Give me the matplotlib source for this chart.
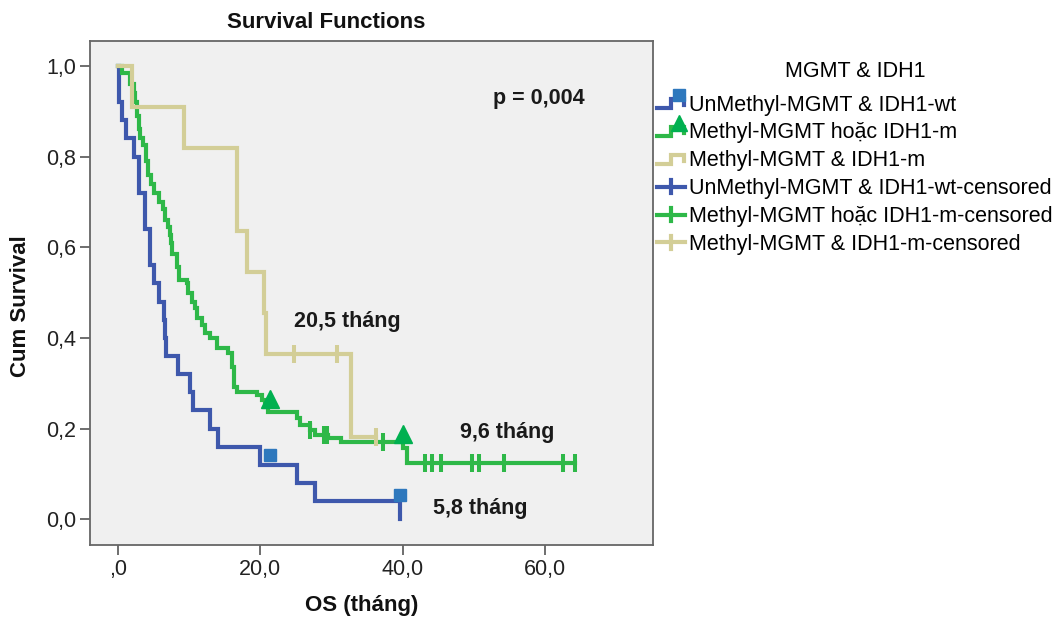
import matplotlib
matplotlib.use('Agg')
import matplotlib.pyplot as plt
from matplotlib.legend_handler import HandlerBase
from matplotlib.lines import Line2D
import numpy as np

plt.rcParams['font.family'] = ['Liberation Sans', 'DejaVu Sans']

# ---------------- data ----------------
# UnMethyl-MGMT & IDH1-wt
blue_t = [0, 0.2, 0.5, 1.1, 2.3, 2.9, 3.8, 4.5, 5.0, 5.7, 6.5, 6.6, 6.8, 8.5, 10.1, 10.5, 12.9, 14.1, 19.9, 25.1, 27.7, 39.6]
blue_s = [1.0, 0.92, 0.88, 0.84, 0.80, 0.72, 0.64, 0.56, 0.52, 0.48, 0.44, 0.40, 0.36, 0.32, 0.28, 0.24, 0.20, 0.16, 0.12, 0.08, 0.04, 0.0]
blue_end = 39.6
blue_cens = []
blue_mark_x = [21.3, 39.7]
blue_mark_y = [0.141, 0.053]

# Methyl-MGMT hoac IDH1-m
green_t = [0, 0.5, 1.7, 2.2, 2.4, 2.6, 2.9, 3.1, 3.5, 3.9, 4.2, 4.6, 5.1, 5.7, 6.3, 6.6, 7.0, 7.3, 7.5, 7.6, 8.3, 8.6, 9.7, 9.9, 10.4, 10.8, 11.1, 11.8, 12.2, 12.9, 13.9, 15.5, 16.0, 16.3, 16.7, 19.5, 20.2, 20.7, 21.1, 25.1, 25.6, 27.0, 27.7, 29.5, 31.4, 40.0, 40.6]
green_s = [1.0, 0.985, 0.96, 0.94, 0.92, 0.89, 0.86, 0.84, 0.826, 0.79, 0.76, 0.74, 0.72, 0.70, 0.685, 0.66, 0.645, 0.627, 0.609, 0.586, 0.557, 0.528, 0.52, 0.498, 0.48, 0.466, 0.443, 0.428, 0.41, 0.399, 0.377, 0.366, 0.336, 0.292, 0.281, 0.274, 0.263, 0.248, 0.237, 0.223, 0.207, 0.196, 0.185, 0.178, 0.171, 0.156, 0.124]
green_end = 64.3
green_cens = [27.0, 29.0, 29.4, 37.3, 43.2, 44.2, 45.4, 49.8, 50.8, 54.2, 62.5, 64.3]
green_mark_x = [21.4, 40.1]
green_mark_y = [0.266, 0.189]

# Methyl-MGMT & IDH1-m
tan_t = [0, 2.0, 9.3, 16.7, 18.1, 20.5, 20.8, 32.8]
tan_s = [1.0, 0.909, 0.818, 0.636, 0.545, 0.455, 0.364, 0.182]
tan_end = 36.3
tan_cens = [24.7, 30.8, 36.3]

labels = ['UnMethyl-MGMT & IDH1-wt', 'Methyl-MGMT hoặc IDH1-m', 'Methyl-MGMT & IDH1-m',
          'UnMethyl-MGMT & IDH1-wt-censored', 'Methyl-MGMT hoặc IDH1-m-censored',
          'Methyl-MGMT & IDH1-m-censored']
legend_title = 'MGMT & IDH1'
xticks = [0, 20, 40, 60]
xticklabels = [',0', '20,0', '40,0', '60,0']
yticks = [0, 0.2, 0.4, 0.6, 0.8, 1.0]
yticklabels = ['0,0', '0,2', '0,4', '0,6', '0,8', '1,0']
annotations = [('p = 0,004', 52.7, 0.916), ('20,5 tháng', 24.8, 0.424),
               ('9,6 tháng', 48.1, 0.180), ('5,8 tháng', 44.3, 0.011)]

# ---------------- style ----------------
C_BLUE = '#3e58ac'
C_GREEN = '#2eb848'
C_TAN = '#d3ce97'
C_SQ = '#2e78bd'
C_TRI = '#00b050'
LW = 3.0
FS = 15.5

W, H = 1062, 619
fig = plt.figure(figsize=(W / 100, H / 100), dpi=100)
ax = fig.add_axes([90 / W, (H - 545) / H, 563 / W, 504 / H])
ax.set_facecolor('#f0f0f0')


def surv_at(t, s, x):
    t = np.asarray(t)
    s = np.asarray(s)
    idx = np.searchsorted(t, x, side='right') - 1
    return s[idx]


def draw_curve(t, s, end, color, z):
    xs = list(t) + [end]
    ys = list(s) + [s[-1]]
    ax.step(xs, ys, where='post', color=color, lw=LW, zorder=z,
            solid_joinstyle='miter')


draw_curve(blue_t, blue_s, blue_end, C_BLUE, 3)
draw_curve(green_t, green_s, green_end, C_GREEN, 4)
draw_curve(tan_t, tan_s, tan_end, C_TAN, 5)

for cens, t, s, c, z in [(blue_cens, blue_t, blue_s, C_BLUE, 3),
                         (green_cens, green_t, green_s, C_GREEN, 4),
                         (tan_cens, tan_t, tan_s, C_TAN, 5)]:
    if len(cens):
        ax.plot(cens, surv_at(t, s, cens), linestyle='none', marker='|',
                ms=13, mew=2.9, color=c, zorder=z)

ax.plot(blue_mark_x, blue_mark_y, linestyle='none', marker='s', ms=8.5,
        color=C_SQ, zorder=6)
ax.plot(green_mark_x, green_mark_y, linestyle='none', marker='^', ms=13,
        color=C_TRI, zorder=6)

ax.set_xlim(-3.94, 75.2)
ax.set_ylim(-0.057, 1.055)
ax.set_xticks(xticks)
ax.set_xticklabels(xticklabels)
ax.set_yticks(yticks)
ax.set_yticklabels(yticklabels)
ax.tick_params(direction='out', length=7, width=1.2, color='#555555',
               labelsize=FS, labelcolor='#222222', pad=3)
for sp in ax.spines.values():
    sp.set_color('#666666')
    sp.set_linewidth(1.3)

for txt, x, y in annotations:
    ax.text(x, y, txt, fontsize=FS, fontweight='bold', ha='left',
            va='baseline', color='#1a1a1a', zorder=7)

fig.text(326 / W, 1 - 22 / H, 'Survival Functions', fontsize=16,
         fontweight='bold', ha='center', va='center', color='#111111')
fig.text(21 / W, 1 - 306 / H, 'Cum Survival', fontsize=16, fontweight='bold',
         rotation=90, ha='center', va='center', color='#111111')
fig.text(362 / W, 1 - 605 / H, 'OS (tháng)', fontsize=16, fontweight='bold',
         ha='center', va='center', color='#111111')


# ---------------- legend ----------------
class StepHandler(HandlerBase):
    def __init__(self, color, marker=None, mcolor=None, ms=8):
        super().__init__()
        self.color = color
        self.marker = marker
        self.mcolor = mcolor
        self.ms = ms

    def create_artists(self, legend, orig_handle, xdescent, ydescent, width,
                       height, fontsize, trans):
        x0, y0 = -xdescent, -ydescent
        xs = x0 + np.array([0.0, 0.5, 0.5, 0.95, 0.95]) * width
        ys = y0 + np.array([0.15, 0.15, 0.75, 0.75, 0.35]) * height
        arts = [Line2D(xs, ys, color=self.color, lw=LW,
                       solid_joinstyle='miter', transform=trans)]
        if self.marker:
            arts.append(Line2D([x0 + 0.8 * width], [y0 + 1.05 * height],
                               marker=self.marker, ms=self.ms,
                               color=self.mcolor, linestyle='none',
                               transform=trans))
        return arts


class CensHandler(HandlerBase):
    def __init__(self, color):
        super().__init__()
        self.color = color

    def create_artists(self, legend, orig_handle, xdescent, ydescent, width,
                       height, fontsize, trans):
        x0, y0 = -xdescent, -ydescent
        ym = y0 + 0.5 * height
        h = Line2D([x0, x0 + width], [ym, ym], color=self.color, lw=LW,
                   transform=trans)
        v = Line2D([x0 + 0.5 * width] * 2, [ym - 0.45 * height, ym + 0.45 * height],
                   color=self.color, lw=LW, transform=trans)
        return [h, v]


handles = [Line2D([], []) for _ in range(6)]
hmap = {
    handles[0]: StepHandler(C_BLUE, 's', C_SQ, 8.5),
    handles[1]: StepHandler(C_GREEN, '^', C_TRI, 11),
    handles[2]: StepHandler(C_TAN),
    handles[3]: CensHandler(C_BLUE),
    handles[4]: CensHandler(C_GREEN),
    handles[5]: CensHandler(C_TAN),
}
leg = fig.legend(handles, labels, handler_map=hmap, loc='upper left',
                 bbox_to_anchor=(657 / W, 1 - 61 / H), frameon=False,
                 fontsize=FS, title=legend_title, title_fontsize=FS,
                 handlelength=1.3, handletextpad=0.2, labelspacing=0.32,
                 borderpad=0, borderaxespad=0)
leg._legend_box.sep = 9

fig.savefig('out.png', dpi=100, facecolor='white')
